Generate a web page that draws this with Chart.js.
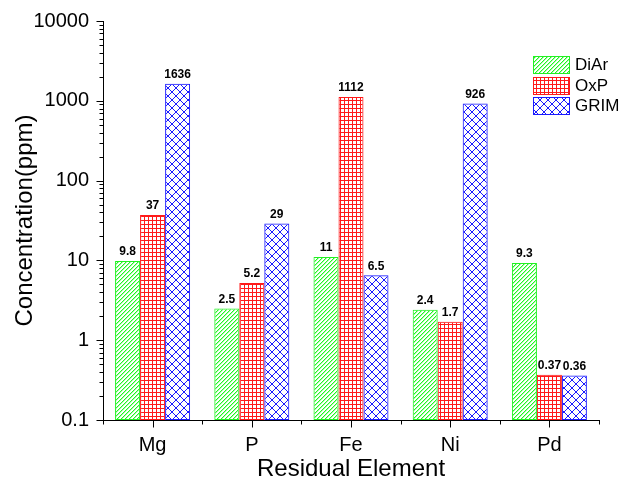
<!DOCTYPE html>
<html lang="en">
<head>
<meta charset="utf-8">
<script src="https://cdn.jsdelivr.net/npm/chart.js@4.4.1/dist/chart.umd.min.js"></script>
<style>
    html, body { margin: 0; padding: 0; background: #fff; }
</style>
</head>
<body>

<canvas id="residualChart" width="621" height="479"></canvas>

<script>
    // data
    var elements = ['Mg', 'P', 'Fe', 'Ni', 'Pd'];
    var seriesNames = ['DiAr', 'OxP', 'GRIM'];
    var diArValues = [9.8, 2.5, 11, 2.4, 9.3];
    var oxPValues = [37, 5.2, 1112, 1.7, 0.37];
    var grimValues = [1636, 29, 6.5, 926, 0.36];
    var yTicks = [0.1, 1, 10, 100, 1000, 10000];

    var FONT = '"Liberation Sans", Arial, sans-serif';
    var canvas = document.getElementById('residualChart');
    var ctx = canvas.getContext('2d');

    // hatch tiles drawn pixel by pixel so they stay crisp
    function makePattern(kind, color, soft) {
        var s = kind === 'cross' ? 8 : 4;
        var c = document.createElement('canvas');
        c.width = s;
        c.height = s;
        var g = c.getContext('2d');
        for (var i = 0; i < s; i++) {
            g.fillStyle = color;
            if (kind === 'diag') {
                g.fillRect(s - 1 - i, i, 1, 1);
                g.fillStyle = soft;
                g.fillRect((s - i) % s, i, 1, 1);
            } else if (kind === 'grid') {
                g.fillRect(i, 0, 1, 1);
                g.fillRect(0, i, 1, 1);
            } else {
                g.fillRect(i, i, 1, 1);
                g.fillRect(s - 1 - i, i, 1, 1);
            }
        }
        return ctx.createPattern(c, 'repeat');
    }

    var colors = ['#22f022', '#ff1a1a', '#1a1aff'];
    var patterns = [
        makePattern('diag', '#22f522', '#aaffaa'),
        makePattern('grid', colors[1]),
        makePattern('cross', colors[2])
    ];
    var values = [diArValues, oxPValues, grimValues];

    var datasets = seriesNames.map(function (name, k) {
        return {
            label: name,
            data: values[k],
            backgroundColor: patterns[k],
            borderColor: colors[k],
            borderWidth: 1,
            borderSkipped: false,
            barPercentage: 1,
            categoryPercentage: 0.756
        };
    });

    // ticks, value labels and the legend box inside the plot
    var extras = {
        id: 'extras',
        afterDatasetsDraw: function (chart) {
            var c = chart.ctx;
            var area = chart.chartArea;
            var x = chart.scales.x;
            var y = chart.scales.y;
            c.save();

            // value labels
            c.fillStyle = '#000';
            c.font = 'bold 12px ' + FONT;
            c.textAlign = 'center';
            c.textBaseline = 'bottom';
            chart.data.datasets.forEach(function (ds, k) {
                chart.getDatasetMeta(k).data.forEach(function (bar, i) {
                    c.fillText(String(ds.data[i]), bar.x, bar.y - 3);
                });
            });

            // y ticks
            c.strokeStyle = '#000';
            c.lineWidth = 1;
            c.beginPath();
            var lx = Math.round(area.left) + 0.5;
            yTicks.forEach(function (v, i) {
                var py = Math.round(y.getPixelForValue(v)) + 0.5;
                c.moveTo(lx - 7, py); c.lineTo(lx, py);
                if (i < yTicks.length - 1) {
                    for (var m = 2; m <= 9; m++) {
                        var pm = Math.round(y.getPixelForValue(v * m)) + 0.5;
                        c.moveTo(lx - 4, pm); c.lineTo(lx, pm);
                    }
                }
            });

            // x ticks
            var by = Math.round(area.bottom) + 0.5;
            var n = elements.length;
            var step = (x.right - x.left) / n;
            for (var i = 0; i <= n; i++) {
                var pb = Math.round(x.left + i * step) + 0.5;
                c.moveTo(pb, by); c.lineTo(pb, by + 4);
                if (i < n) {
                    var pc = Math.round(x.getPixelForValue(i)) + 0.5;
                    c.moveTo(pc, by); c.lineTo(pc, by + 7);
                }
            }
            c.stroke();

            // legend
            c.font = '17px ' + FONT;
            c.textAlign = 'left';
            c.textBaseline = 'middle';
            chart.data.datasets.forEach(function (ds, k) {
                var top = Math.round(56 + k * 20.7);
                c.fillStyle = ds.backgroundColor;
                c.fillRect(533, top, 36, 17);
                c.strokeStyle = ds.borderColor;
                c.strokeRect(533.5, top + 0.5, 36, 17);
                c.fillStyle = '#000';
                c.fillText(ds.label, 575, top + 9);
            });

            c.restore();
        }
    };

    var residualChart = new Chart(ctx, {
        type: 'bar',
        data: {
            labels: elements,
            datasets: datasets
        },
        plugins: [extras],
        options: {
            responsive: false,
            animation: false,
            layout: { padding: { left: 0, right: 22, top: 21, bottom: 0 } },
            plugins: {
                legend: { display: false },
                tooltip: { enabled: false }
            },
            scales: {
                x: {
                    grid: { display: false, drawTicks: false },
                    border: { display: true, color: '#000', width: 1 },
                    ticks: { color: '#000', padding: 13, font: { family: FONT, size: 20 } },
                    title: {
                        display: true,
                        text: 'Residual Element',
                        color: '#000',
                        padding: { top: 0, bottom: -2 },
                        font: { family: FONT, size: 24, lineHeight: 1 }
                    },
                    afterFit: function (scale) {
                        scale.height = 59;
                        scale.paddingLeft = 0;
                        scale.paddingRight = 0;
                    }
                },
                y: {
                    type: 'logarithmic',
                    min: 0.1,
                    max: 10000,
                    grid: { display: false, drawTicks: false },
                    border: { display: true, color: '#000', width: 1 },
                    afterBuildTicks: function (scale) {
                        scale.ticks = yTicks.map(function (v) { return { value: v }; });
                    },
                    ticks: {
                        color: '#000',
                        padding: 14,
                        autoSkip: false,
                        font: { family: FONT, size: 20 },
                        callback: function (v) { return String(v); }
                    },
                    title: {
                        display: true,
                        text: 'Concentration(ppm)',
                        color: '#000',
                        padding: { top: 13, bottom: 0 },
                        font: { family: FONT, size: 24, lineHeight: 1 }
                    },
                    afterFit: function (scale) {
                        scale.width = 103;
                        scale.paddingTop = 0;
                        scale.paddingBottom = 0;
                    }
                }
            }
        }
    });
</script>
</body>
</html>
